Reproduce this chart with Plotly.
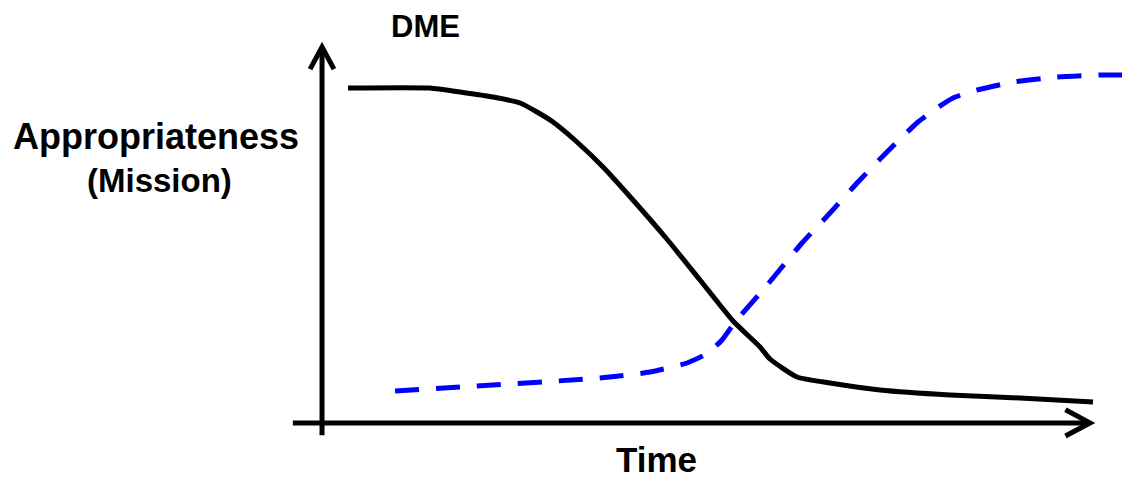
import plotly.graph_objects as go

# Data (time units 0..100, appropriateness units 0..100)
time_black = [3.39, 14.06, 17.97, 22.27, 25.78, 27.99, 30.08, 33.20, 36.59, 40.49, 44.79, 49.22,
              53.52, 57.03, 58.33, 61.85, 66.15, 72.66, 81.77, 90.89, 100.39]
value_black = [89.84, 89.84, 88.77, 87.43, 85.83, 83.42, 80.75, 75.40, 68.72, 59.90, 49.73, 38.50,
               27.54, 20.60, 17.38, 12.57, 10.96, 9.09, 7.75, 6.95, 5.88]

time_blue = [9.51, 17.97, 36.20, 42.71, 47.53, 50.26, 52.08, 53.78, 57.42, 62.50, 66.15, 69.79,
             73.57, 77.60, 80.08, 82.16, 84.77, 90.0, 95.70, 101.30, 106.38]
value_blue = [8.82, 9.89, 12.30, 13.90, 16.31, 18.98, 22.46, 27.27, 35.83, 48.40, 56.42, 64.71,
              72.73, 80.75, 84.49, 87.17, 89.04, 91.44, 92.78, 93.32, 93.32]

x_label = "Time"
y_label_top = "DME"
y_label_main = "Appropriateness"
y_label_sub = "(Mission)"

W, H = 1139, 481
x_range = [-41.93, 106.38]
y_range = [-15.24, 113.37]

fig = go.Figure()
fig.add_trace(go.Scatter(x=time_black, y=value_black, mode="lines",
                         line=dict(color="black", width=5, shape="spline", smoothing=0.5),
                         hoverinfo="skip"))
fig.add_trace(go.Scatter(x=time_blue, y=value_blue, mode="lines",
                         line=dict(color="#0000FF", width=5, dash="24px,17px", shape="spline", smoothing=0.5),
                         hoverinfo="skip"))

axis_style = dict(color="black", width=5)
shapes = [
    # y axis
    dict(type="line", x0=0, x1=0, y0=-3.0, y1=100.5, xref="x", yref="y", line=axis_style),
    dict(type="path", path="M -1.56 94.9 L 0 100.8 L 1.56 94.9", xref="x", yref="y", line=axis_style),
    # x axis
    dict(type="line", x0=-3.8, x1=99.8, y0=0.3, y1=0.3, xref="x", yref="y", line=axis_style),
    dict(type="path", path="M 96.8 3.8 L 100.0 0.3 L 96.8 -3.2", xref="x", yref="y", line=axis_style),
]

font_family = "Arial, Liberation Sans, sans-serif"
annotations = [
    dict(text=f"<b>{y_label_top}</b>", x=425 / W, y=1 - 26 / H, xref="paper", yref="paper",
         showarrow=False, font=dict(family=font_family, size=31, color="black"),
         xanchor="center", yanchor="middle"),
    dict(text=f"<b>{y_label_main}</b>", x=156 / W, y=1 - 136 / H, xref="paper", yref="paper",
         showarrow=False, font=dict(family=font_family, size=36, color="black"),
         xanchor="center", yanchor="middle"),
    dict(text=f"<b>{y_label_sub}</b>", x=159 / W, y=1 - 180 / H, xref="paper", yref="paper",
         showarrow=False, font=dict(family=font_family, size=33, color="black"),
         xanchor="center", yanchor="middle"),
    dict(text=f"<b>{x_label}</b>", x=656 / W, y=0, xref="paper", yref="paper",
         showarrow=False, font=dict(family=font_family, size=35, color="black"),
         xanchor="center", yanchor="bottom"),
]

fig.update_layout(
    width=W, height=H,
    margin=dict(l=0, r=0, t=0, b=0),
    paper_bgcolor="white", plot_bgcolor="white",
    showlegend=False,
    xaxis=dict(visible=False, range=x_range, fixedrange=True),
    yaxis=dict(visible=False, range=y_range, fixedrange=True),
    shapes=shapes,
    annotations=annotations,
)

fig.write_html("out.html", config={"displayModeBar": False},
               post_script="document.body.style.margin='0';document.body.style.overflow='hidden';")
